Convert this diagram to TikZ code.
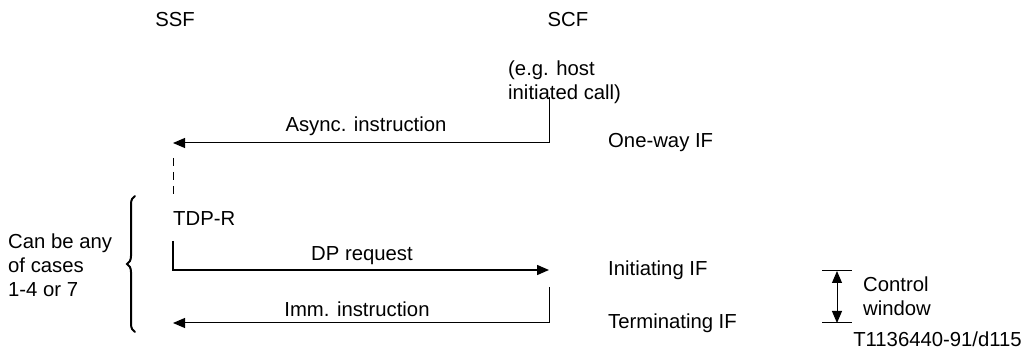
\documentclass[tikz,border=0pt]{standalone}
\usepackage{fontspec}
\setmainfont{Liberation Sans}
\usetikzlibrary{arrows.meta,decorations.pathreplacing}
\begin{document}
\begin{tikzpicture}[x=1pt,y=-1pt,
  lbl/.style={font=\fontsize{20.3}{24}\selectfont, inner sep=0pt},
  msg/.style={line width=1pt},
  msgb/.style={line width=1.5pt},
  tip/.style={-{Triangle[length=12pt,width=10pt]}},
  tips/.style={{Triangle[length=12pt,width=10pt]}-{Triangle[length=12pt,width=10pt]}}]
\useasboundingbox (0,0) rectangle (1029,352);
% headers
\node[lbl] (ssf) at (175,20) {SSF};
\node[lbl] (scf) at (568,20) {SCF};
\node[lbl, anchor=west, align=left] (eg) at (508,82) {(e.g. host\\initiated call)};
% async instruction
\coordinate (a1) at (549,97);
\coordinate (a2) at (549,143);
\coordinate (a3) at (173,143);
\draw[msg,tip] (a1) -- (a2) -- (a3);
\node[lbl] (async) at (366,126) {Async. instruction};
\node[lbl, anchor=west] (oneway) at (608,143) {One-way IF};
% dashed
\coordinate (d1) at (173,158);
\coordinate (d2) at (173,198);
\draw[msg, dash pattern=on 8pt off 6pt] (d1) -- (d2);
\node[lbl, anchor=west] (tdpr) at (173,219) {TDP-R};
% brace
\coordinate (b1) at (135,332);
\coordinate (b2) at (135,196);
\draw[line width=2pt, line cap=round, decorate, decoration={brace, amplitude=8pt, aspect=0.5}] (b1) -- (b2);
\node[lbl, anchor=west, align=left] (can) at (8,265) {Can be any\\of cases\\1-4 or 7};
% DP request
\coordinate (p1) at (173,241);
\coordinate (p2) at (173,270);
\coordinate (p3) at (549,270);
\draw[msgb,tip] (p1) -- (p2) -- (p3);
\node[lbl] (dpreq) at (362,256) {DP request};
\node[lbl, anchor=west] (init) at (608,270) {Initiating IF};
% Imm. instruction
\coordinate (i1) at (549,287);
\coordinate (i2) at (549,323);
\coordinate (i3) at (173,323);
\draw[msg,tip] (i1) -- (i2) -- (i3);
\node[lbl] (imm) at (357,309) {Imm. instruction};
\node[lbl, anchor=west] (term) at (608,323) {Terminating IF};
% control window
\coordinate (c1) at (822,271);
\coordinate (c2) at (852,271);
\coordinate (c3) at (822,323);
\coordinate (c4) at (852,323);
\draw[line width=1pt] (c1) -- (c2);
\draw[line width=1pt] (c3) -- (c4);
\coordinate (v1) at (837,271);
\coordinate (v2) at (837,323);
\draw[line width=1pt, tips] (v1) -- (v2);
\node[lbl, anchor=west, align=left] (cw) at (863,296) {Control\\window};
\node[lbl, anchor=east] (ref) at (1022,339) {T1136440-91/d115};
\end{tikzpicture}
\end{document}
